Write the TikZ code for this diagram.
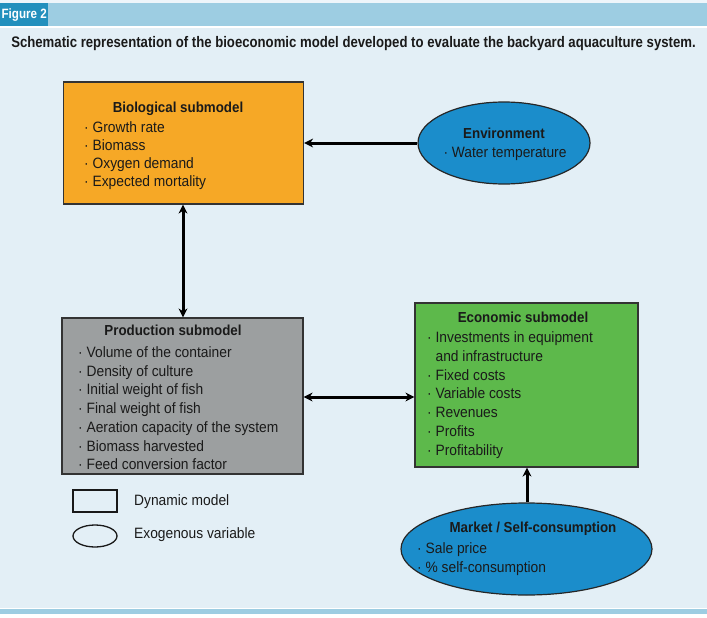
\documentclass[tikz,border=0pt]{standalone}
\usepackage{fontspec}
\setmainfont{Liberation Sans}[FakeStretch=0.92]
\newfontfamily\headfont{Liberation Sans}[FakeStretch=0.86]
\usetikzlibrary{arrows.meta,shapes.geometric}
\definecolor{bgblue}{HTML}{E3EFF6}
\definecolor{barblue}{HTML}{9DCDE2}
\definecolor{labblue}{HTML}{2390BD}
\definecolor{orangebox}{HTML}{F6A826}
\definecolor{graybox}{HTML}{9C9FA0}
\definecolor{greenbox}{HTML}{5DB94B}
\definecolor{ellblue}{HTML}{1B8DCB}
\definecolor{txt}{HTML}{1A1A1A}
\begin{document}
\begin{tikzpicture}[x=1pt,y=-1pt,
  box/.style={draw=black!80, line width=1.2pt, rectangle, inner sep=0pt},
  ell/.style={draw=black!85, line width=1.2pt, ellipse, fill=ellblue, inner sep=0pt},
  ttl/.style={font=\fontsize{14.5}{17}\selectfont\bfseries, text=txt, inner sep=0pt, anchor=base},
  items/.style={font=\fontsize{15}{18.7}\selectfont, text=txt, inner sep=0pt, align=left, anchor=north west},
  arr/.style={line width=3pt, -{Stealth[length=9pt,width=9pt]}},
  darr/.style={line width=3pt, {Stealth[length=9pt,width=9pt]}-{Stealth[length=9pt,width=9pt]}},
  legend/.style={draw=black!90, line width=1.3pt, inner sep=0pt},
  ltxt/.style={font=\fontsize{15}{17}\selectfont, text=txt, inner sep=0pt, anchor=west}
]
\useasboundingbox (0,0) rectangle (707,618);
% background
\fill[white] (0,0) rectangle (707,618);
\fill[bgblue] (0,28) rectangle (707,608);
\fill[bgblue!60] (0,0) rectangle (707,3);
\fill[barblue] (0,3) rectangle (707,26);
\fill[barblue] (0,608.5) rectangle (707,614);
\node[fill=labblue, minimum width=48pt, minimum height=23pt, inner sep=0pt, anchor=north west,
      text=white, font=\headfont\fontsize{13.5}{16}\selectfont\bfseries] (fig) at (0,3) {Figure 2};
\node[font=\headfont\fontsize{15.3}{18}\selectfont\bfseries, text=txt, inner sep=0pt, anchor=base] (title) at (353.5,47.5)
  {Schematic representation of the bioeconomic model developed to evaluate the backyard aquaculture system.};

% boxes
\node[box, fill=orangebox, minimum width=240pt, minimum height=122pt] (bio) at (183.5,143) {};
\node[box, fill=graybox, minimum width=241pt, minimum height=156pt] (prod) at (182.5,396) {};
\node[box, fill=greenbox, minimum width=223pt, minimum height=164pt] (eco) at (526.5,385) {};
\node[ell, minimum width=172pt, minimum height=82pt] (env) at (504,143) {};
\node[ell, minimum width=251pt, minimum height=92pt] (mkt) at (526.5,549) {};

% texts
\node[ttl] (biot) at (178,112) {Biological submodel};
\node[items, font=\fontsize{15}{18}\selectfont] (bioi) at (84,121.5) {· Growth rate\\· Biomass\\· Oxygen demand\\· Expected mortality};
\node[ttl] (envt) at (504,138) {Environment};
\node[ttl, font=\fontsize{15}{17}\selectfont] (envi) at (505,157.5) {· Water temperature};
\node[ttl] (prodt) at (173,335.5) {Production submodel};
\node[items] (prodi) at (78,346.5) {· Volume of the container\\· Density of culture\\· Initial weight of fish\\· Final weight of fish\\· Aeration capacity of the system\\· Biomass harvested\\· Feed conversion factor};
\node[ttl] (ecot) at (523,322.5) {Economic submodel};
\node[items, font=\fontsize{15}{18.8}\selectfont] (ecoi) at (427,331.5) {· Investments in equipment\\\phantom{· }and infrastructure\\· Fixed costs\\· Variable costs\\· Revenues\\· Profits\\· Profitability};
\node[ttl] (mktt) at (533,532) {Market / Self-consumption};
\node[items] (mkti) at (417,542.5) {· Sale price\\· \% self-consumption};

% connectors
\draw[arr] (env.west) -- (bio.east |- env.west);
\draw[darr] (bio.south -| 183,0) -- (prod.north -| 183,0);
\draw[darr] (prod.east |- 0,397) -- (eco.west |- 0,397);
\draw[arr] (mkt.north -| 527,0) -- (eco.south -| 527,0);

% legend
\node[legend, minimum width=44pt, minimum height=22pt] (lrect) at (95,501) {};
\node[ltxt] (lrt) at (134,502) {Dynamic model};
\node[legend, ellipse, minimum width=44pt, minimum height=22pt] (lell) at (95,536) {};
\node[ltxt] (let) at (134,535) {Exogenous variable};
\end{tikzpicture}
\end{document}
